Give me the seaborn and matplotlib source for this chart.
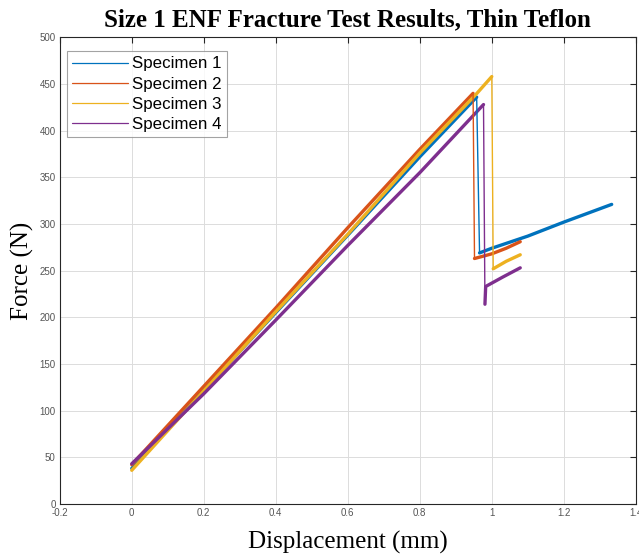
import pandas as pd
import seaborn as sns
from matplotlib import pyplot as plt
from matplotlib.lines import Line2D

# 荷重-変位データ
specimens = ['Specimen 1', 'Specimen 2', 'Specimen 3', 'Specimen 4']
colors = ['#0072BD', '#D95319', '#EDB120', '#7E2F8E']

# 上昇区間
rise_x = [
    [0, 0.2, 0.4, 0.6, 0.8, 0.958],
    [0, 0.2, 0.4, 0.6, 0.8, 0.948],
    [0, 0.2, 0.4, 0.6, 0.8, 0.954, 1.0],
    [0, 0.2, 0.4, 0.6, 0.8, 0.977],
]
rise_y = [
    [38, 122, 205, 288, 372, 436],
    [42, 126, 210, 296, 380, 440],
    [36, 121, 206, 289, 376, 438, 458],
    [43, 118, 197, 277, 355, 428],
]

# 破壊後の区間
tail_x = [
    [0.966, 1.0, 1.1, 1.2, 1.333],
    [0.952, 1.0, 1.04, 1.079],
    [1.004, 1.04, 1.079],
    [0.981, 0.983, 1.03, 1.079],
]
tail_y = [
    [269, 274, 287, 302, 321],
    [263, 268, 274, 281],
    [252, 260, 267],
    [214, 233, 243, 253],
]

rows = []
drops = []
for i, name in enumerate(specimens):
    for x, y in zip(rise_x[i], rise_y[i]):
        rows.append((name, 'rise', x, y))
    for x, y in zip(tail_x[i], tail_y[i]):
        rows.append((name, 'tail', x, y))
    drops.append((name, 'drop', rise_x[i][-1], rise_y[i][-1]))
    drops.append((name, 'drop', tail_x[i][0], tail_y[i][0]))
df = pd.DataFrame(rows, columns=['specimen', 'seg', 'disp', 'force'])
df_drop = pd.DataFrame(drops, columns=['specimen', 'seg', 'disp', 'force'])

sns.set_style('white')
plt.rcParams['font.family'] = ['Liberation Sans', 'DejaVu Sans']

fig = plt.figure(figsize=(6.39, 5.58), dpi=100)
ax = fig.add_axes([0.0935, 0.097, 0.9015, 0.836])

palette = dict(zip(specimens, colors))
sns.lineplot(data=df, x='disp', y='force', hue='specimen', units='seg',
             estimator=None, sort=False, palette=palette, lw=2.4, legend=False, ax=ax)
sns.lineplot(data=df_drop, x='disp', y='force', hue='specimen', units='seg',
             estimator=None, sort=False, palette=palette, lw=1.0, legend=False, ax=ax)

ax.set_xlim(-0.2, 1.4)
ax.set_ylim(0, 500)
ax.set_xticks([-0.2, 0, 0.2, 0.4, 0.6, 0.8, 1, 1.2, 1.4])
ax.set_xticklabels(['-0.2', '0', '0.2', '0.4', '0.6', '0.8', '1', '1.2', '1.4'])
ax.set_yticks(range(0, 501, 50))
ax.grid(True, color='#dcdcdc', lw=0.7)
ax.tick_params(direction='in', length=4, width=0.8, top=True, right=True,
               labelsize=7, labelcolor='#555555', color='#262626', pad=3)
for s in ax.spines.values():
    s.set_color('#262626')
    s.set_linewidth(0.8)

ax.set_xlabel('Displacement (mm)', family='Liberation Serif', fontsize=18,
              labelpad=9, color='black')
ax.set_ylabel('Force (N)', family='Liberation Serif', fontsize=18,
              labelpad=4, color='black')
ax.set_title('Size 1 ENF Fracture Test Results, Thin Teflon',
             family='Liberation Serif', fontweight='bold', fontsize=18, pad=8,
             color='black')

# 凡例
handles = [Line2D([0], [0], color=c, lw=0.9) for c in colors]
leg = ax.legend(handles, specimens, loc='upper left', fontsize=12.2,
                bbox_to_anchor=(0.012, 0.97),
                frameon=True, fancybox=False, edgecolor='#8c8c8c',
                borderaxespad=0, handlelength=3.3, handletextpad=0.25,
                borderpad=0.3, labelspacing=0.3)
leg.get_frame().set_linewidth(0.8)
for t in leg.get_texts():
    t.set_color('black')

plt.savefig('out.png', dpi=100)
